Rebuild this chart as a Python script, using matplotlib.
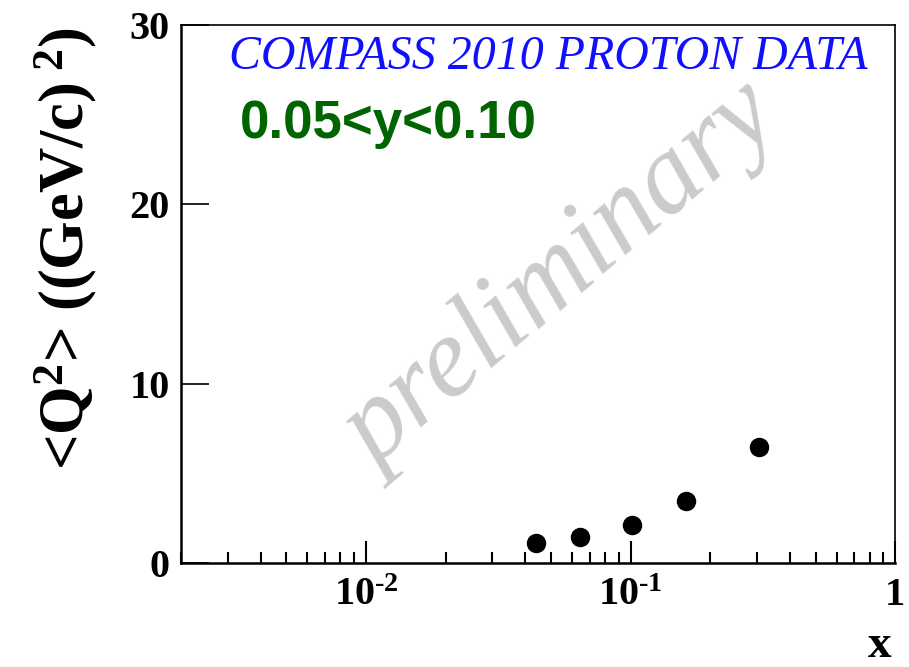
import matplotlib
matplotlib.use("Agg")
import matplotlib.pyplot as plt
from matplotlib.ticker import FixedLocator, NullFormatter, LogLocator

plt.rcParams['mathtext.fontset'] = 'custom'
plt.rcParams['mathtext.rm'] = 'Liberation Serif:bold'
plt.rcParams['mathtext.bf'] = 'Liberation Serif:bold'
plt.rcParams['mathtext.it'] = 'Liberation Serif:italic'

# mean Q^2 per x bin, 0.05 < y < 0.10
x_vals = [0.0440, 0.0645, 0.1016, 0.162, 0.305]
q2_vals = [1.10, 1.47, 2.10, 3.47, 6.49]

x_ticks = [0.01, 0.1, 1.0]
x_ticklabels = [r'10$^{\text{-2}}$', r'10$^{\text{-1}}$', '1']
y_ticks = [0, 10, 20, 30]

fig = plt.figure(figsize=(9.09, 6.67), dpi=100)
ax = fig.add_axes([0.199, 0.156, 0.786, 0.807])

ax.plot(x_vals, q2_vals, 'o', color='black', markersize=13, zorder=3)

ax.set_xscale('log')
ax.set_xlim(0.002, 1.0)
ax.set_ylim(0, 30)

ax.xaxis.set_major_locator(FixedLocator(x_ticks))
ax.set_xticklabels(x_ticklabels)
ax.xaxis.set_minor_locator(LogLocator(base=10, subs=range(2, 10), numticks=20))
ax.xaxis.set_minor_formatter(NullFormatter())
ax.set_yticks(y_ticks)
ax.set_yticklabels([str(v) for v in y_ticks])

ax.tick_params(axis='x', which='major', direction='in', length=16, width=1.5,
               labelsize=29, pad=10, top=False)
ax.tick_params(axis='x', which='minor', direction='in', length=8, width=1.5, top=False)
ax.tick_params(axis='y', which='major', direction='in', length=20, width=1.2,
               labelsize=29, pad=8, right=False)
for lab in ax.get_xticklabels() + ax.get_yticklabels():
    lab.set_fontfamily('Liberation Serif')
    lab.set_fontweight('bold')

for side in ['left', 'bottom']:
    ax.spines[side].set_linewidth(1.8)
for side in ['top', 'right']:
    ax.spines[side].set_linewidth(1.2)

# watermark
ax.text(0.534, 0.53, 'preliminary', transform=ax.transAxes, rotation=40,
        ha='center', va='center', fontsize=82, fontstyle='italic',
        family='Liberation Serif', color='#cbcbcb', zorder=1)

ax.text(0.068, 0.94, 'COMPASS 2010 PROTON DATA', transform=ax.transAxes,
        ha='left', va='center', fontsize=34.5, fontstyle='italic',
        family='Liberation Serif', color='#1010ff')

ax.text(0.083, 0.815, '0.05<y<0.10', transform=ax.transAxes,
        ha='left', va='center', fontsize=38, fontweight='bold',
        family='Liberation Sans', color='#006400')

fig.text(0.072, 0.96, r'<Q$^{2}$> ((GeV/c)$^{\ 2}$)', rotation=90,
         ha='center', va='top', fontsize=45, fontweight='bold',
         family='Liberation Serif')

fig.text(0.968, 0.0, 'x', ha='center', va='bottom', fontsize=34,
         fontweight='bold', family='Liberation Serif')

fig.savefig('out.png', dpi=100)
